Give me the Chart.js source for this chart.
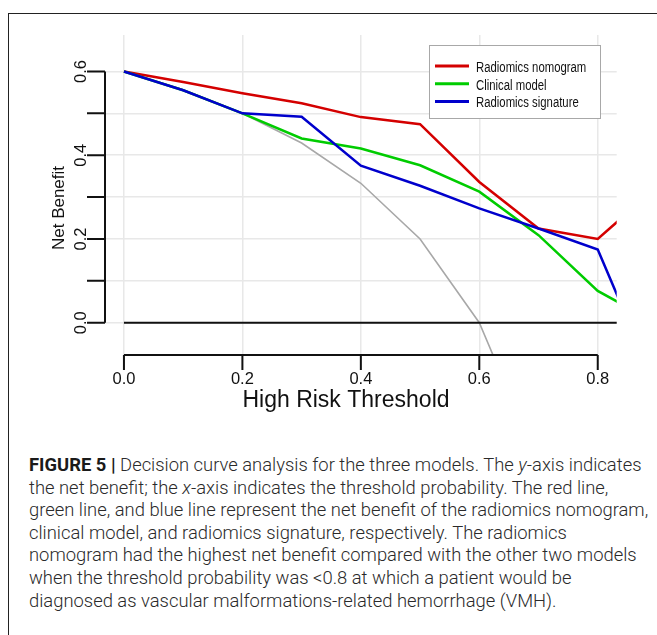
<!DOCTYPE html>
<html>
<head>
<meta charset="utf-8">
<script src="https://cdn.jsdelivr.net/npm/chart.js@4.4.1/dist/chart.umd.min.js"></script>
<style>
  html, body { margin: 0; padding: 0; background: #fff; }
  body { width: 657px; height: 635px; position: relative; overflow: hidden; }
  #frame { position: absolute; left: 8px; top: 13px; width: 700px; height: 700px;
           border-left: 1px solid #222; border-top: 1px solid #222; }
  #chart { position: absolute; left: 0; top: 0; }
  #caption { position: absolute; left: 29px; top: 454px; white-space: nowrap;
             font-family: Roboto, "Liberation Sans", sans-serif; font-weight: 300;
             font-size: 18.4px; line-height: 22.6px; color: #2a2a2a; }
  #caption b { font-weight: 700; color: #1a1a1a; }
</style>
</head>
<body>
<div id="frame"></div>
<canvas id="chart" width="657" height="430"></canvas>
<div id="caption">
<b>FIGURE 5 |</b> Decision curve analysis for the three models. The <i>y</i>-axis indicates<br>
the net benefit; the <i>x</i>-axis indicates the threshold probability. The red line,<br>
green line, and blue line represent the net benefit of the radiomics nomogram,<br>
clinical model, and radiomics signature, respectively. The radiomics<br>
nomogram had the highest net benefit compared with the other two models<br>
when the threshold probability was &lt;0.8 at which a patient would be<br>
diagnosed as vascular malformations-related hemorrhage (VMH).
</div>
<script>
// threshold probabilities
const thresholds = [0, 0.1, 0.2, 0.3, 0.4, 0.5, 0.6, 0.7, 0.8, 0.9];
const nomogram  = [0.600, 0.575, 0.548, 0.524, 0.491, 0.474, 0.336, 0.225, 0.200, 0.325];
const clinical  = [0.600, 0.555, 0.500, 0.440, 0.416, 0.376, 0.313, 0.209, 0.076, -0.002];
const signature = [0.600, 0.555, 0.500, 0.492, 0.375, 0.327, 0.273, 0.225, 0.175, -0.158];
const treatAll  = [0.600, 0.556, 0.500, 0.429, 0.333, 0.200, 0.000, -0.333, -1.000, -3.000];
const treatNone = [0, 0, 0, 0, 0, 0, 0, 0, 0, 0];

const xTicks = [0, 0.2, 0.4, 0.6, 0.8];
const yTicks = [0, 0.1, 0.2, 0.3, 0.4, 0.5, 0.6];
const yLabels = [0, 0.2, 0.4, 0.6];

const pts = arr => arr.map((v, i) => ({ x: thresholds[i], y: v }));

const legendItems = [
    { label: 'Radiomics nomogram', color: '#d40000' },
    { label: 'Clinical model', color: '#00cc00' },
    { label: 'Radiomics signature', color: '#0000cc' }
];

// R style axes, titles and boxed legend
const rStyle = {
    id: 'rStyle',
    afterDraw(chart) {
        const { ctx, scales: { x, y } } = chart;
        ctx.save();
        ctx.strokeStyle = '#111';
        ctx.fillStyle = '#111';
        ctx.lineWidth = 2;

        // y axis
        const ax = chart.chartArea.left;
        ctx.beginPath();
        ctx.moveTo(ax, y.getPixelForValue(0));
        ctx.lineTo(ax, y.getPixelForValue(0.6));
        yTicks.forEach(v => {
            const py = y.getPixelForValue(v);
            ctx.moveTo(ax, py);
            ctx.lineTo(ax - 18, py);
        });
        ctx.stroke();
        ctx.font = '16.5px "Liberation Sans", Arial, sans-serif';
        ctx.textAlign = 'center';
        ctx.textBaseline = 'alphabetic';
        yLabels.forEach(v => {
            ctx.save();
            ctx.translate(86, y.getPixelForValue(v));
            ctx.rotate(-Math.PI / 2);
            ctx.fillText(v.toFixed(1), 0, 0);
            ctx.restore();
        });

        // x axis
        const ay = chart.chartArea.bottom;
        ctx.beginPath();
        ctx.moveTo(x.getPixelForValue(0), ay);
        ctx.lineTo(x.getPixelForValue(0.8), ay);
        xTicks.forEach(v => {
            const px = x.getPixelForValue(v);
            ctx.moveTo(px, ay);
            ctx.lineTo(px, ay + 15);
        });
        ctx.stroke();
        xTicks.forEach(v => ctx.fillText(v.toFixed(1), x.getPixelForValue(v), 384));

        // titles
        ctx.font = '23px "Liberation Sans", Arial, sans-serif';
        ctx.fillText('High Risk Threshold', 346, 407);
        ctx.save();
        ctx.translate(64, 208);
        ctx.rotate(-Math.PI / 2);
        ctx.font = '17px "Liberation Sans", Arial, sans-serif';
        ctx.fillText('Net Benefit', 0, 0);
        ctx.restore();

        // legend
        ctx.fillStyle = '#fff';
        ctx.fillRect(429, 45, 172, 74);
        ctx.strokeStyle = '#a8a8a8';
        ctx.lineWidth = 1;
        ctx.strokeRect(429.5, 45.5, 171, 73);
        ctx.font = '14px "Liberation Sans", Arial, sans-serif';
        ctx.textAlign = 'left';
        ctx.textBaseline = 'middle';
        legendItems.forEach((it, i) => {
            const ly = 66 + i * 17.8;
            ctx.strokeStyle = it.color;
            ctx.lineWidth = 3;
            ctx.beginPath();
            ctx.moveTo(435, ly);
            ctx.lineTo(469, ly);
            ctx.stroke();
            ctx.save();
            ctx.translate(476, ly + 2);
            ctx.scale(0.81, 1);
            ctx.fillStyle = '#111';
            ctx.fillText(it.label, 0, 0);
            ctx.restore();
        });
        ctx.restore();
    }
};

const lineSet = (data, color, width, order) => ({
    data: pts(data), borderColor: color, borderWidth: width,
    pointRadius: 0, tension: 0, fill: false, order: order
});

new Chart(document.getElementById('chart'), {
    type: 'line',
    data: {
        datasets: [
            lineSet(signature, '#0000cc', 2.5, 1),
            lineSet(clinical, '#00cc00', 2.5, 2),
            lineSet(nomogram, '#d40000', 2.5, 3),
            lineSet(treatNone, '#111111', 2, 4),
            lineSet(treatAll, '#a8a8a8', 1.6, 5)
        ]
    },
    options: {
        responsive: false,
        animation: false,
        devicePixelRatio: 1,
        layout: { padding: { left: 105, right: 40.3, top: 35, bottom: 75 } },
        plugins: { legend: { display: false }, tooltip: { enabled: false } },
        scales: {
            x: {
                type: 'linear', min: -0.032, max: 0.832,
                afterBuildTicks: s => { s.ticks = xTicks.map(v => ({ value: v })); },
                afterFit: s => { s.height = 0; },
                ticks: { display: false },
                border: { display: false },
                grid: { color: '#e8e8e8', lineWidth: 1.5, drawTicks: false }
            },
            y: {
                type: 'linear', min: -0.077, max: 0.687,
                afterBuildTicks: s => { s.ticks = yTicks.map(v => ({ value: v })); },
                afterFit: s => { s.width = 0; },
                ticks: { display: false },
                border: { display: false },
                grid: { color: '#e8e8e8', lineWidth: 1.5, drawTicks: false }
            }
        }
    },
    plugins: [rStyle]
});
</script>
</body>
</html>
